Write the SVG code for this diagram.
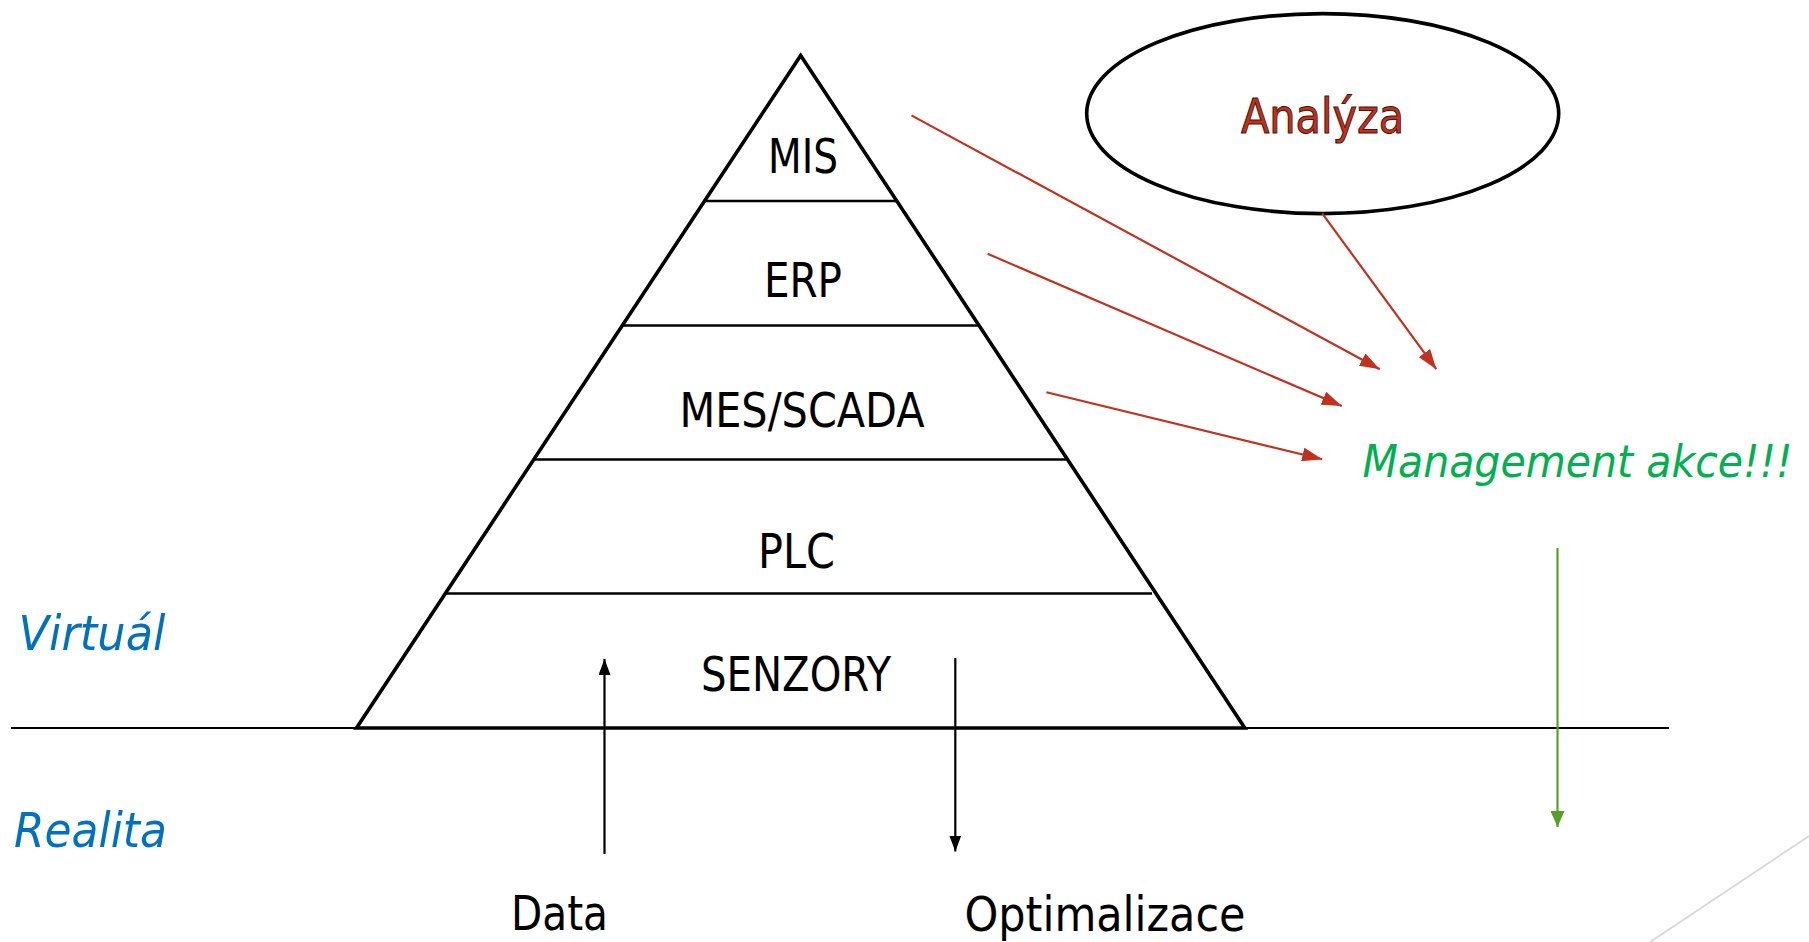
<svg xmlns="http://www.w3.org/2000/svg" width="1809" height="942" viewBox="0 0 1809 942">
<defs>
<marker id="ar" viewBox="0 0 20 14" refX="20" refY="7" markerWidth="20" markerHeight="14" markerUnits="userSpaceOnUse" orient="auto">
<path d="M0,0 L20,7 L0,14 z" fill="#C0311F"/>
</marker>
<marker id="ab" viewBox="0 0 16 12" refX="16" refY="6" markerWidth="16" markerHeight="12" markerUnits="userSpaceOnUse" orient="auto">
<path d="M0,0 L16,6 L0,12 z" fill="#000"/>
</marker>
<marker id="ag" viewBox="0 0 16 14" refX="16" refY="7" markerWidth="16" markerHeight="14" markerUnits="userSpaceOnUse" orient="auto">
<path d="M0,0 L16,7 L0,14 z" fill="#5A9E2A"/>
</marker>
</defs>
<style>
.t{font-family:"DejaVu Sans","Liberation Sans",sans-serif;font-stretch:condensed;fill:#000;font-size:48px}
.it{font-family:"DejaVu Sans","Liberation Sans",sans-serif;font-stretch:condensed;font-style:italic;font-size:48px}
.red{stroke:#C0311F;stroke-width:2.2;fill:none}
.blk{stroke:#000;stroke-width:2.2;fill:none}
.lyr{stroke:#000;stroke-width:2.4}
</style>
<rect width="1809" height="942" fill="#fff"/>
<line x1="1650" y1="942" x2="1809" y2="836" stroke="#d9d9d9" stroke-width="2"/>
<g id="ground">
<line x1="11" y1="728" x2="1669" y2="728" stroke="#000" stroke-width="2.2"/>
</g>
<g id="pyramid">
<polygon points="800.7,55.4 356.5,728 1244.8,728" fill="none" stroke="#000" stroke-width="3.6" stroke-linejoin="miter"/>
<line class="lyr" x1="705" y1="201" x2="896" y2="201"/>
<line class="lyr" x1="623" y1="325.5" x2="978" y2="325.5"/>
<line class="lyr" x1="535" y1="459.5" x2="1066" y2="459.5"/>
<line class="lyr" x1="446" y1="593.5" x2="1152" y2="593.5"/>
</g>
<g id="mis"><text class="t" x="803" y="173" text-anchor="middle" textLength="70" lengthAdjust="spacingAndGlyphs">MIS</text></g>
<g id="erp"><text class="t" x="803" y="296.5" text-anchor="middle" textLength="78" lengthAdjust="spacingAndGlyphs">ERP</text></g>
<g id="mes"><text class="t" x="802" y="427" text-anchor="middle" textLength="245" lengthAdjust="spacingAndGlyphs">MES/SCADA</text></g>
<g id="plc"><text class="t" x="796.5" y="567.6" text-anchor="middle" textLength="77" lengthAdjust="spacingAndGlyphs">PLC</text></g>
<g id="senzory"><text class="t" x="796" y="691" text-anchor="middle" textLength="190" lengthAdjust="spacingAndGlyphs">SENZORY</text></g>
<g id="analyza">
<ellipse cx="1322.7" cy="113.6" rx="236" ry="100" fill="#fff" stroke="#000" stroke-width="3.6"/>
<text class="t" x="1322.5" y="132.7" text-anchor="middle" textLength="163" lengthAdjust="spacingAndGlyphs" style="fill:#C0311F;stroke:#4a1408;stroke-width:1">Analýza</text>
</g>
<g id="management"><text class="it" x="1362.5" y="476.5" textLength="430" lengthAdjust="spacingAndGlyphs" style="fill:#00B050;font-size:44px">Management akce!!!</text></g>
<g id="virtual"><text class="it" x="18.5" y="649.5" textLength="147" lengthAdjust="spacingAndGlyphs" style="fill:#0070C0">Virtuál</text></g>
<g id="realita"><text class="it" x="14" y="847" textLength="153" lengthAdjust="spacingAndGlyphs" style="fill:#0070C0">Realita</text></g>
<g id="data"><text class="t" x="559.5" y="930" text-anchor="middle" textLength="97" lengthAdjust="spacingAndGlyphs">Data</text></g>
<g id="optimalizace"><text class="t" x="1105" y="931" text-anchor="middle" textLength="281" lengthAdjust="spacingAndGlyphs">Optimalizace</text></g>
<g id="connectors">
<line class="red" x1="911.4" y1="115.4" x2="1379.8" y2="369.2" marker-end="url(#ar)"/>
<line class="red" x1="987.6" y1="253.8" x2="1341.8" y2="406.1" marker-end="url(#ar)"/>
<line class="red" x1="1046.4" y1="392.3" x2="1322.2" y2="459.2" marker-end="url(#ar)"/>
<line class="red" x1="1322.2" y1="213.4" x2="1436.3" y2="369.2" marker-end="url(#ar)"/>
<line x1="1557.5" y1="548" x2="1557.5" y2="827" stroke="#5A9E2A" stroke-width="2.2" marker-end="url(#ag)"/>
<line class="blk" x1="604.5" y1="854" x2="604.5" y2="659" marker-end="url(#ab)"/>
<line class="blk" x1="955.3" y1="658" x2="955.3" y2="851.5" marker-end="url(#ab)"/>
</g>
</svg>
